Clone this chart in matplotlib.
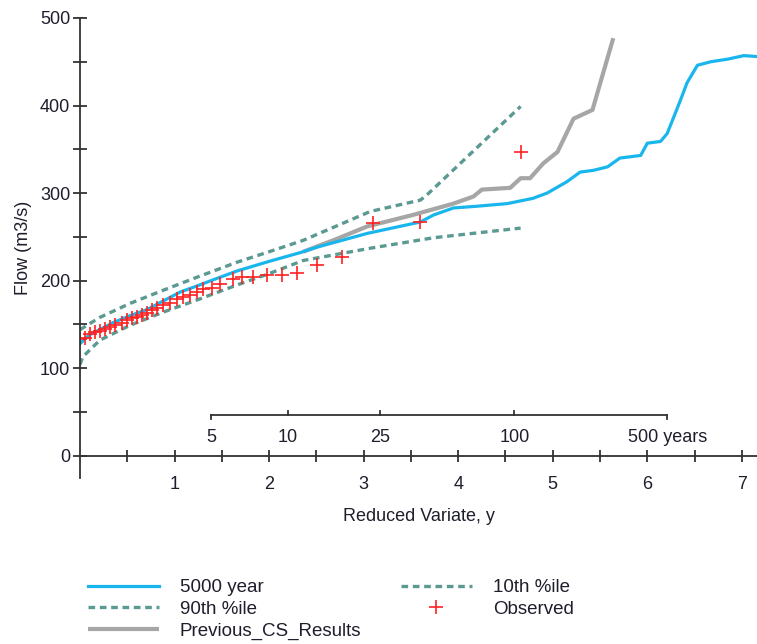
import matplotlib.pyplot as plt
import numpy as np
from matplotlib.ticker import FixedLocator, MultipleLocator, FuncFormatter

plt.rcParams['font.family'] = ['Liberation Sans', 'DejaVu Sans']

# reduced variate (x) and flow (m3/s)
v_5000 = [0, 0.1, 0.35, 0.53, 0.71, 1.06, 1.24, 1.41, 1.66, 2.0, 2.33, 2.5, 3.04, 3.6, 3.74, 3.95,
          4.2, 4.52, 4.79, 4.94, 5.15, 5.29, 5.43, 5.58, 5.71, 5.93, 6.0, 6.14, 6.21, 6.35, 6.42,
          6.53, 6.67, 6.85, 7.02, 7.16]
q_5000 = [128, 138, 152, 160, 167, 187, 194, 201, 211, 222, 232, 238, 254, 267, 275, 283,
          285, 288, 294, 300, 313, 324, 326, 330, 340, 343, 357, 359, 368, 406, 426,
          446, 450, 453, 457, 456]

v_p90 = [0, 0.21, 0.53, 0.88, 1.24, 1.66, 2.0, 2.36, 3.07, 3.6, 3.67, 4.66]
q_p90 = [144, 158, 174, 189, 204, 221, 233, 246, 279, 292, 298, 399]

v_p10 = [0, 0.03, 0.21, 0.53, 0.88, 1.24, 1.66, 2.0, 2.36, 3.07, 3.74, 4.66]
q_p10 = [104, 113, 132, 149, 164, 178, 195, 208, 223, 237, 249, 260]

v_prev = [2.36, 2.7, 3.04, 3.52, 3.95, 4.16, 4.25, 4.55, 4.66, 4.76, 4.9, 5.05, 5.22, 5.42, 5.64]
q_prev = [233, 247, 262, 275, 288, 296, 304, 306, 317, 317, 334, 347, 385, 395, 477]

v_obs = [0.0, 0.05, 0.11, 0.16, 0.21, 0.26, 0.32, 0.37, 0.44, 0.50, 0.55, 0.60, 0.66, 0.71,
         0.76, 0.81, 0.88, 0.95, 1.03, 1.09, 1.16, 1.24, 1.30, 1.40, 1.48, 1.62, 1.71, 1.83,
         1.98, 2.14, 2.30, 2.51, 2.77, 3.10, 3.60, 4.66]
q_obs = [133, 135, 139, 141, 143, 145, 147, 149, 152, 155, 157, 159, 161, 163,
         166, 169, 172, 175, 179, 181, 184, 187, 190, 192, 196, 202, 204, 204,
         206, 206, 209, 218, 227, 266, 267, 347]

return_periods = [5, 10, 25, 100, 500]
rp_labels = ['5', '10', '25', '100', '500 years']

blue = '#19B6EE'
teal = '#5B9A92'
grey = '#A6A6A6'
red = '#FF2020'
txt = '#1E1E2C'
fs = 13

fig = plt.figure(figsize=(7.57, 6.44), dpi=100)
ax = fig.add_axes([80 / 757, 1 - 477.6 / 644, 1 - 80 / 757, (477.6 - 18) / 644])

dash = (2.0, 1.4)
l_prev, = ax.plot(v_prev, q_prev, color=grey, lw=3.0, solid_capstyle='butt')
l_5000, = ax.plot(v_5000, q_5000, color=blue, lw=2.3)
l_p90, = ax.plot(v_p90, q_p90, color=teal, lw=2.4, dashes=dash)
l_p10, = ax.plot(v_p10, q_p10, color=teal, lw=2.4, dashes=dash)
l_obs, = ax.plot(v_obs, q_obs, ls='none', marker='+', color=red, ms=10, mew=1.2)

ax.set_xlim(0, 7.16)
ax.set_ylim(-25, 500)

for s in ['top', 'right']:
    ax.spines[s].set_visible(False)
ax.spines['bottom'].set_position(('data', 0))
for s in ['left', 'bottom']:
    ax.spines[s].set_color('#333333')
    ax.spines[s].set_linewidth(1.3)

ax.xaxis.set_major_locator(FixedLocator(np.arange(0.5, 7.01, 0.5)))
ax.xaxis.set_major_formatter(FuncFormatter(lambda x, p: '%d' % x if abs(x - round(x)) < 1e-6 else ''))
ax.yaxis.set_major_locator(MultipleLocator(100))
ax.yaxis.set_minor_locator(MultipleLocator(50))
ax.tick_params(axis='x', direction='inout', length=9, width=1.3, color='#333333',
               labelsize=fs, labelcolor=txt, pad=10)
ax.tick_params(axis='y', which='both', direction='inout', length=10, width=1.3, color='#333333',
               labelsize=fs, labelcolor=txt, pad=2)

ax.set_xlabel('Reduced Variate, y', fontsize=fs, color=txt, labelpad=11)
ax.set_ylabel('Flow (m3/s)', fontsize=fs, color=txt, labelpad=6)

# return period scale (logistic reduced variate y = ln(T - 1))
rp_v = [np.log(t - 1.0) for t in return_periods]
y_rp = 47
ax.plot([rp_v[0], rp_v[-1]], [y_rp, y_rp], color='#333333', lw=1.3)
for i, rv in enumerate(rp_v):
    if i == 0 or i == len(rp_v) - 1:
        ax.plot([rv, rv], [y_rp, y_rp - 5], color='#333333', lw=1.3)
    else:
        ax.plot([rv, rv], [y_rp, y_rp + 4], color='#333333', lw=1.3)
    ax.text(rv, 21, rp_labels[i], ha='center', va='center', fontsize=fs, color=txt)

handles = [l_5000, l_p90, l_prev, l_p10, l_obs]
labels = ['5000 year', '90th %ile', 'Previous_CS_Results', '10th %ile', 'Observed']
fig.legend(handles, labels, ncol=2, loc='upper left', bbox_to_anchor=(88 / 757, 1 - 579 / 644),
           frameon=False, fontsize=13.5, handlelength=3.8, handletextpad=1.1, columnspacing=2.1,
           labelspacing=0.25, borderpad=0, borderaxespad=0, labelcolor=txt)

fig.savefig('out.png', dpi=100)
